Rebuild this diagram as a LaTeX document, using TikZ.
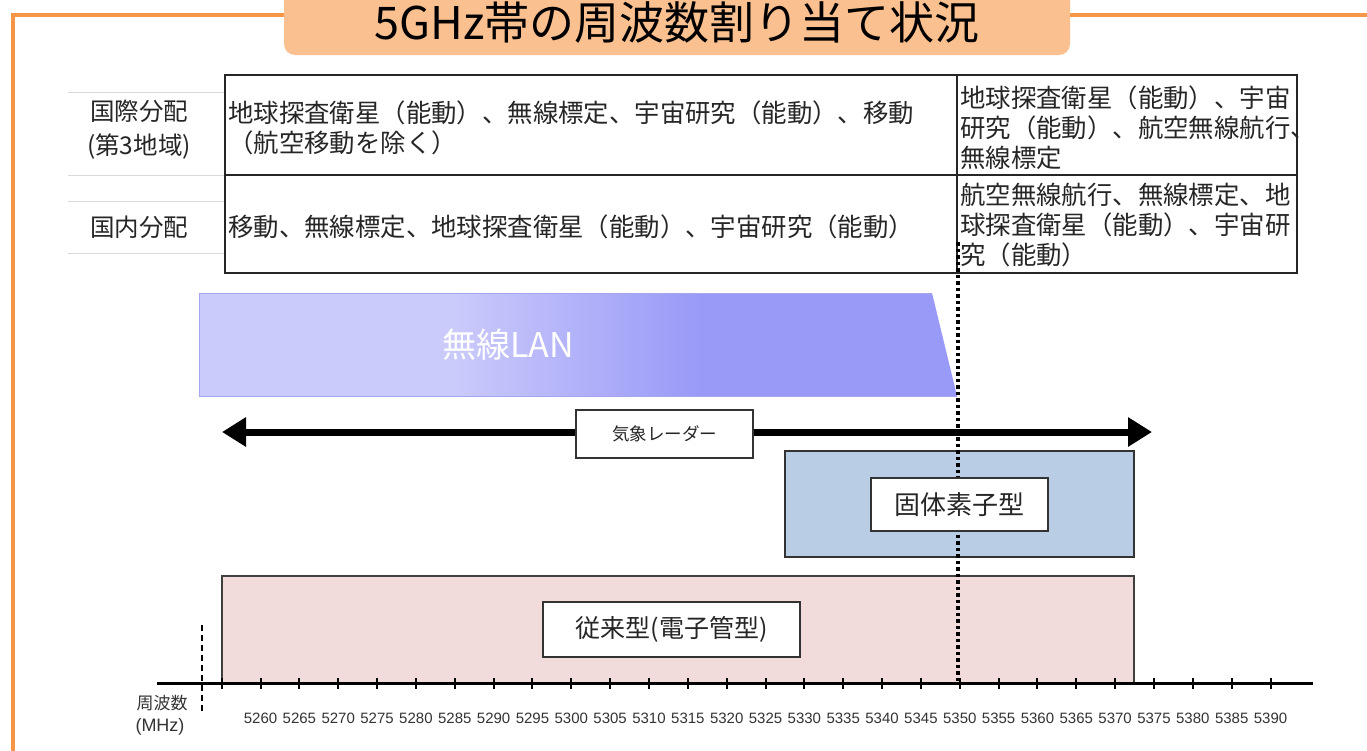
\documentclass[tikz,border=0pt]{standalone}
\usepackage{fontspec}
\setmainfont{Liberation Sans}
\newfontfamily\jp{Noto Sans CJK JP}
\usetikzlibrary{arrows.meta}
\definecolor{frameorange}{HTML}{F79646}
\definecolor{titlefill}{HTML}{FAC090}
\definecolor{lanA}{HTML}{CBCBFB}
\definecolor{lanB}{HTML}{9999F8}
\definecolor{lanedge}{HTML}{A6A6EE}
\definecolor{solidfill}{HTML}{B9CDE5}
\definecolor{tubefill}{HTML}{F2DCDB}
\definecolor{txtgray}{HTML}{262626}
\begin{document}
\begin{tikzpicture}[x=1pt,y=-1pt,
  cell/.style={font=\jp\fontsize{25.4}{30}\selectfont, align=left, inner sep=0pt, text=txtgray, anchor=west},
  rowlab/.style={font=\jp\fontsize{24.5}{34}\selectfont, align=center, inner sep=0pt, text=txtgray},
  labelbox/.style={draw=black!80, fill=white, line width=1.2pt, inner sep=0pt, text=black!85},
  ticklab/.style={font=\fontsize{15}{16}\selectfont, text=black!80, inner sep=0pt},
  tablerule/.style={draw=black!85, line width=1.8pt},
  graylabrule/.style={draw=black!15, line width=1pt}
]
\useasboundingbox (0,0) rectangle (1367,750);
\fill[white] (0,0) rectangle (1367,750);

% frame and title
\draw[frameorange, line width=4pt] (13,752) -- (13,15) -- (290,15);
\draw[frameorange, line width=4pt] (1065,15) -- (1369,15);
\fill[titlefill, rounded corners=11pt] (284,-20) rectangle (1070,55);
\node[font=\jp\fontsize{45}{47}\selectfont, inner sep=0pt] (title) at (677,23) {5GHz帯の周波数割り当て状況};

% row labels
\draw[graylabrule] (68,92) -- (225,92);
\draw[graylabrule] (68,175) -- (225,175);
\draw[graylabrule] (68,201) -- (225,201);
\draw[graylabrule] (68,253) -- (225,253);
\node[rowlab] (intlLab) at (139,130) {国際分配\\(第3地域)};
\node[rowlab] (domLab) at (139,227) {国内分配};

% table
\draw[tablerule] (225,75) rectangle (1297,273);
\draw[tablerule] (225,175) -- (1297,175);
\draw[tablerule] (957,75) -- (957,273);
\node[cell] (intlL) at (228,128) {地球探査衛星（能動）、無線標定、宇宙研究（能動）、移動\\（航空移動を除く）};
\node[cell] (intlR) at (960,128) {地球探査衛星（能動）、宇宙\\研究（能動）、航空無線航行、\\無線標定};
\node[cell] (domL) at (228,227) {移動、無線標定、地球探査衛星（能動）、宇宙研究（能動）};
\node[cell] (domR) at (960,225) {航空無線航行、無線標定、地\\球探査衛星（能動）、宇宙研\\究（能動）};

% wireless LAN
\fill[lanA] (199,293) rectangle (451,396);
\shade[left color=lanA, right color=lanB] (450,293) rectangle (701,396);
\fill[lanB] (700,293) -- (932,293) -- (957,396) -- (700,396) -- cycle;
\draw[lanedge, line width=1pt] (932,293) -- (199,293) -- (199,396) -- (957,396);
\node[font=\jp\fontsize{34}{36}\selectfont, text=white, inner sep=0pt] (lan) at (508,345) {無線LAN};

% weather radar arrow
\coordinate (radL) at (222,432);
\coordinate (radR) at (1152,432);
\draw[line width=7pt, {Triangle[length=24pt,width=28pt]}-{Triangle[length=24pt,width=28pt]}] (radL) -- (radR);
\node[labelbox, font=\jp\fontsize{17.5}{19}\selectfont, minimum width=177pt, minimum height=48pt] (radar) at (664.5,434) {気象レーダー};

% solid state box
\draw[draw=black!80, fill=solidfill, line width=1.2pt] (785,451) rectangle (1134,557);
% tube box
\draw[draw=black!75, fill=tubefill, line width=1.2pt] (222,576) rectangle (1134,683);

% dotted 5350 line
\coordinate (dotT) at (958,242);
\coordinate (dotB) at (958,683);
\draw[line width=3.5pt, dash pattern=on 3.5pt off 3pt] (dotT) -- (dotB);

\node[labelbox, font=\jp\fontsize{26}{28}\selectfont, minimum width=177pt, minimum height=53pt] (solidLab) at (959.5,504.5) {固体素子型};
\node[labelbox, font=\jp\fontsize{25}{27}\selectfont, minimum width=257pt, minimum height=55pt] (tubeLab) at (671.5,629.5) {従来型(電子管型)};

% axis
\coordinate (axL) at (157,683);
\coordinate (axR) at (1313,683);
\draw[line width=3pt] (axL) -- (axR);
\foreach \i in {0,...,27} \draw[line width=2pt] ({221.7+\i*38.845},678) -- ({221.7+\i*38.845},689);
\foreach \i [evaluate=\i as \f using {int(5255+5*\i)}] in {1,...,27}
  \node[ticklab] (t\i) at ({221.7+\i*38.845},718) {\f};

\coordinate (dashT) at (202,625);
\coordinate (dashB) at (202,713);
\draw[line width=2pt, dash pattern=on 6pt off 4pt] (dashT) -- (dashB);

\node[font=\jp\fontsize{17}{19}\selectfont, text=black!80, inner sep=0pt] (freq) at (162,703) {周波数};
\node[font=\fontsize{18}{20}\selectfont, text=black!80, inner sep=0pt] (mhz) at (160,727) {(MHz)};
\end{tikzpicture}
\end{document}
